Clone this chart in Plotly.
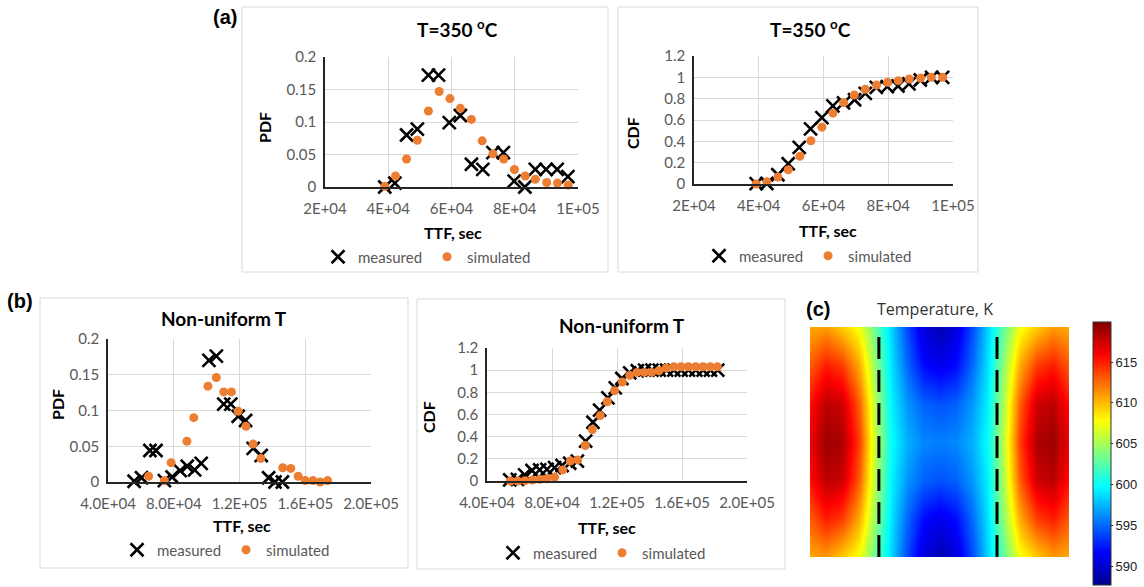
import plotly.graph_objects as go

W, H = 1144, 587

# ---------------- data: (a) T = 350 C ----------------
a_pdf_meas_x = [38.9e3, 42.1e3, 45.8e3, 49.2e3, 52.7e3, 55.9e3, 59.3e3, 62.8e3, 66.3e3, 69.9e3,
                73.1e3, 76.4e3, 79.8e3, 83.2e3, 86.5e3, 89.9e3, 93.4e3, 96.8e3, 100.2e3]
a_pdf_meas_y = [0, 0.006, 0.08, 0.089, 0.172, 0.172, 0.099, 0.11, 0.035, 0.027,
                0.053, 0.053, 0.009, 0, 0.027, 0.027, 0.027, 0.016, 0]
a_pdf_sim_x = [38.9e3, 42.3e3, 45.8e3, 49.2e3, 52.7e3, 56.1e3, 59.5e3, 62.8e3, 66.3e3, 69.7e3,
               73.1e3, 76.5e3, 79.9e3, 83.3e3, 86.5e3, 90.1e3, 93.5e3, 96.9e3, 100.4e3]
a_pdf_sim_y = [0.001, 0.017, 0.043, 0.072, 0.117, 0.147, 0.136, 0.121, 0.104, 0.071,
               0.051, 0.043, 0.027, 0.017, 0.012, 0.007, 0.006, 0.003, 0]

a_cdf_meas_x = [39.2e3, 42.5e3, 45.9e3, 49.1e3, 52.5e3, 56.0e3, 59.5e3, 62.9e3, 66.2e3, 69.6e3,
                72.9e3, 76.3e3, 79.7e3, 83.0e3, 86.4e3, 89.9e3, 93.4e3, 96.8e3, 100.2e3]
a_cdf_meas_y = [0.003, 0.005, 0.087, 0.19, 0.343, 0.517, 0.623, 0.732, 0.76, 0.79,
                0.85, 0.906, 0.913, 0.919, 0.938, 0.975, 1.0, 1.0, 1.0]
a_cdf_sim_x = [39.2e3, 42.5e3, 45.9e3, 49.1e3, 52.7e3, 56.1e3, 59.5e3, 62.9e3, 66.2e3, 69.5e3,
               72.9e3, 76.4e3, 79.8e3, 83.1e3, 86.5e3, 90.0e3, 93.3e3, 96.8e3, 100.2e3]
a_cdf_sim_y = [0.0, 0.02, 0.065, 0.134, 0.259, 0.405, 0.533, 0.664, 0.763, 0.835,
               0.888, 0.928, 0.953, 0.969, 0.984, 0.994, 1.0, 1.0, 1.0]

a_xticks = [2e4, 4e4, 6e4, 8e4, 1e5]
a_xticklabels = ["2E+04", "4E+04", "6E+04", "8E+04", "1E+05"]

# ---------------- data: (b) non-uniform T ----------------
b_pdf_meas_x = [55.9e3, 60.4e3, 65.5e3, 69.2e3, 74.3e3, 79.0e3, 83.9e3, 88.2e3, 92.7e3, 96.7e3,
                101.4e3, 105.9e3, 110.4e3, 114.7e3, 119.2e3, 123.7e3, 128.3e3, 133.2e3, 137.7e3,
                141.6e3, 146.1e3]
b_pdf_meas_y = [0.001, 0.006, 0.044, 0.044, 0.002, 0.007, 0.016, 0.022, 0.017, 0.026,
                0.170, 0.176, 0.109, 0.109, 0.092, 0.086, 0.047, 0.037, 0.006, 0, 0]
b_pdf_sim_x = [64.7e3, 74.3e3, 78.4e3, 88.0e3, 92.2e3, 100.8e3, 105.9e3, 110.4e3, 115.1e3, 119.2e3,
               123.9e3, 128.3e3, 133.0e3, 146.3e3, 151.2e3, 155.7e3, 160.0e3, 164.7e3, 169.1e3,
               173.6e3]
b_pdf_sim_y = [0.008, 0.002, 0.027, 0.057, 0.090, 0.134, 0.146, 0.126, 0.126, 0.099,
               0.078, 0.053, 0.033, 0.020, 0.019, 0.008, 0.002, 0.002, 0.0, 0.002]

b_cdf_meas_x = [54.0e3, 58.7e3, 63.2e3, 67.7e3, 72.4e3, 76.9e3, 81.6e3, 86.2e3, 90.9e3, 95.6e3,
                100.7e3, 105.2e3, 109.3e3, 114.4e3, 118.9e3, 123.0e3, 127.8e3, 132.5e3, 137.0e3,
                141.5e3, 146.0e3, 150.5e3, 155.0e3, 159.5e3, 164.0e3, 168.5e3, 173.0e3, 177.5e3,
                182.0e3]
b_cdf_meas_y = [0.01, 0.015, 0.055, 0.095, 0.10, 0.105, 0.12, 0.14, 0.16, 0.18,
                0.36, 0.53, 0.64, 0.75, 0.84, 0.925, 0.975, 0.995, 1.0,
                1.0, 1.0, 1.0, 1.0, 1.0, 1.0, 1.0, 1.0, 1.0, 1.0]
b_cdf_sim_x = [54.4e3, 58.9e3, 63.4e3, 67.9e3, 72.4e3, 76.9e3, 81.6e3, 86.6e3, 91.3e3, 95.8e3,
               100.5e3, 104.8e3, 109.7e3, 114.0e3, 118.5e3, 123.3e3, 127.8e3, 132.3e3, 136.8e3,
               141.3e3, 145.8e3, 150.3e3, 154.8e3, 159.3e3, 163.8e3, 168.3e3, 172.8e3, 177.3e3,
               181.8e3]
b_cdf_sim_y = [0.0, 0.0, 0.003, 0.008, 0.015, 0.02, 0.035, 0.10, 0.18, 0.19,
               0.32, 0.465, 0.59, 0.715, 0.815, 0.893, 0.953, 0.98, 0.98,
               0.98, 0.995, 1.02, 1.03, 1.03, 1.03, 1.03, 1.03, 1.03, 1.03]

b_xticks = [4e4, 8e4, 1.2e5, 1.6e5, 2e5]
b_xticklabels = ["4.0E+04", "8.0E+04", "1.2E+05", "1.6E+05", "2.0E+05"]

# ---------------- data: (c) temperature map (K), read on a coarse grid ----------------
heat_x = [0, 0.0625, 0.125, 0.1875, 0.25, 0.3125, 0.375, 0.4375, 0.5,
          0.5625, 0.625, 0.6875, 0.75, 0.8125, 0.875, 0.9375, 1.0]
heat_y = [0, 1/6, 2/6, 3/6, 4/6, 5/6, 1.0]
row_edge = [610.5, 611, 609.5, 607.5, 603, 598.5, 594, 590.5, 589,
            590.5, 594, 598.5, 603, 607.5, 609.5, 611, 610.5]
row_q1 = [613, 615, 614, 610.5, 604.5, 599, 595, 592, 591,
          592, 595, 599, 604.5, 610.5, 614, 615, 613]
row_q2 = [615.5, 618, 617.5, 613, 605.5, 599.5, 596.5, 594.8, 594.3,
          594.8, 596.5, 599.5, 605.5, 613, 617.5, 618, 615.5]
row_mid = [616.5, 619, 618.5, 614, 606, 600, 597.3, 596, 595.7,
           596, 597.3, 600, 606, 614, 618.5, 619, 616.5]
heat_z = [row_edge, row_q1, row_q2, row_mid, row_q2, row_q1, row_edge]
heat_zmin, heat_zmax = 587.7, 619.9
cbar_ticks = [590, 595, 600, 605, 610, 615]
dashed_x = [0.266, 0.722]

# ---------------- styling helpers ----------------
def px(x):
    return x / W

def py(y):
    return 1 - y / H

FONT = "Lato"
TICK_FONT = dict(family=FONT, size=15, color="#595959")
GRID = "#d9d9d9"
AXLINE = "#262626"
ORANGE = "#ED7D31"

fig = go.Figure()

panels = [
    ("", a_pdf_meas_x, a_pdf_meas_y, a_pdf_sim_x, a_pdf_sim_y, "legend"),
    ("2", a_cdf_meas_x, a_cdf_meas_y, a_cdf_sim_x, a_cdf_sim_y, "legend2"),
    ("3", b_pdf_meas_x, b_pdf_meas_y, b_pdf_sim_x, b_pdf_sim_y, "legend3"),
    ("4", b_cdf_meas_x, b_cdf_meas_y, b_cdf_sim_x, b_cdf_sim_y, "legend4"),
]
for suf, mx, my, sx, sy, leg in panels:
    fig.add_trace(go.Scatter(
        x=mx, y=my, mode="markers", name="measured", xaxis="x" + suf, yaxis="y" + suf,
        legend=leg, cliponaxis=False,
        marker=dict(symbol="x-thin", size=13, color="black",
                    line=dict(width=2.6, color="black"))))
    fig.add_trace(go.Scatter(
        x=sx, y=sy, mode="markers", name="simulated", xaxis="x" + suf, yaxis="y" + suf,
        legend=leg, cliponaxis=False,
        marker=dict(symbol="circle", size=9, color=ORANGE, line=dict(width=0))))

jet = [[0.0, "rgb(0,0,143)"], [0.125, "rgb(0,0,255)"], [0.375, "rgb(0,255,255)"],
       [0.625, "rgb(255,255,0)"], [0.875, "rgb(255,0,0)"], [1.0, "rgb(128,0,0)"]]

fig.add_trace(go.Heatmap(
    x=heat_x, y=heat_y, z=heat_z, xaxis="x5", yaxis="y5", zsmooth="best",
    colorscale=jet, zmin=heat_zmin, zmax=heat_zmax, showlegend=False,
    hoverinfo="skip",
    colorbar=dict(x=px(1093), xanchor="left", xpad=0, y=py(453.5), yanchor="middle",
                  ypad=0, len=263, lenmode="pixels", thickness=18, thicknessmode="pixels",
                  tickvals=cbar_ticks, ticks="outside", ticklen=2, tickcolor="#222",
                  tickfont=dict(family="Liberation Sans", size=13, color="#222"),
                  outlinewidth=1, outlinecolor="#333")))


def xax(dom, rng, tv, tt):
    return dict(domain=[px(dom[0]), px(dom[1])], range=rng, tickvals=tv, ticktext=tt,
                showgrid=True, gridcolor=GRID, gridwidth=1, showline=True, linecolor=AXLINE,
                linewidth=1.5, ticks="", tickfont=TICK_FONT, zeroline=False,
                ticklabelstandoff=7, fixedrange=True)


def yax(dom, rng, dt):
    return dict(domain=[py(dom[1]), py(dom[0])], range=rng, dtick=dt, tick0=0,
                showgrid=True, gridcolor=GRID, gridwidth=1, showline=True, linecolor=AXLINE,
                linewidth=1.5, ticks="", tickfont=TICK_FONT, zeroline=False,
                ticklabelstandoff=4, fixedrange=True)


def legend(xc, yc):
    return dict(x=px(xc), y=py(yc), xanchor="center", yanchor="middle", orientation="h",
                bgcolor="rgba(0,0,0,0)", font=dict(family=FONT, size=15, color="#595959"),
                itemwidth=30, tracegroupgap=0, borderwidth=0)


fig.update_layout(
    width=W, height=H, autosize=False,
    margin=dict(l=0, r=0, t=0, b=0, pad=0, autoexpand=False),
    paper_bgcolor="white", plot_bgcolor="white", showlegend=True,
    xaxis=xax((325, 578), [2e4, 1e5], a_xticks, a_xticklabels),
    yaxis=yax((57, 187), [0, 0.2], 0.05),
    xaxis2=xax((694, 953), [2e4, 1e5], a_xticks, a_xticklabels),
    yaxis2=yax((56, 184), [0, 1.2], 0.2),
    xaxis3=xax((108, 371), [4e4, 2e5], b_xticks, b_xticklabels),
    yaxis3=yax((339, 482), [0, 0.2], 0.05),
    xaxis4=xax((487, 747), [4e4, 2e5], b_xticks, b_xticklabels),
    yaxis4=yax((348, 481), [0, 1.2], 0.2),
    xaxis5=dict(domain=[px(810), px(1069)], range=[0, 1], visible=False, fixedrange=True),
    yaxis5=dict(domain=[py(557), py(327)], range=[0, 1], visible=False, fixedrange=True),
    legend=legend(427, 257),
    legend2=legend(808, 256),
    legend3=legend(226, 550),
    legend4=legend(602, 553),
)
for suf in ["", "2", "3", "4"]:
    fig.layout["xaxis" + suf].anchor = "y" + suf
    fig.layout["yaxis" + suf].anchor = "x" + suf
fig.layout.xaxis5.anchor = "y5"
fig.layout.yaxis5.anchor = "x5"

# panel frames
frames = [(242, 7, 608, 272), (618, 7, 978, 272), (40, 298, 408, 568), (417, 299, 785, 569)]
for x0, y0, x1, y1 in frames:
    fig.add_shape(type="rect", xref="paper", yref="paper", x0=px(x0), x1=px(x1),
                  y0=py(y1), y1=py(y0), line=dict(color="#d9d9d9", width=1), layer="below")

# dashed lines in the temperature map
for dx in dashed_x:
    fig.add_shape(type="line", xref="x5", yref="y5 domain", x0=dx, x1=dx, y0=0, y1=1,
                  line=dict(color="black", width=3, dash="22px,11px"))

ann = []


def txt(t, x, y, size, bold=True, color="black", family=FONT, angle=0):
    ann.append(dict(text=("<b>%s</b>" % t) if bold else t, x=px(x), y=py(y), xref="paper",
                    yref="paper", xanchor="center", yanchor="middle", showarrow=False,
                    textangle=angle, font=dict(family=family, size=size, color=color)))


title_a = "T=350 <sup>o</sup>C"
title_b = "Non-uniform T"
txt(title_a, 457, 28, 19)
txt(title_a, 810, 28, 19)
txt(title_b, 224, 318, 19)
txt(title_b, 622, 325, 19)
for x, y in [(453, 233), (828, 230), (242, 525), (607, 527)]:
    txt("TTF, sec", x, y, 16)
txt("PDF", 265, 128, 16, angle=-90)
txt("CDF", 632, 133, 16, angle=-90)
txt("PDF", 57, 405, 16, angle=-90)
txt("CDF", 428, 417, 16, angle=-90)
txt("(a)", 225, 17, 20, family="Liberation Sans")
txt("(b)", 20, 301, 20, family="Liberation Sans")
txt("(c)", 818, 309, 20, family="Liberation Sans")
txt("Temperature, K", 935, 309, 16, bold=False, color="#333", family="Open Sans")
fig.update_layout(annotations=ann)

fig.write_html("out.html")
